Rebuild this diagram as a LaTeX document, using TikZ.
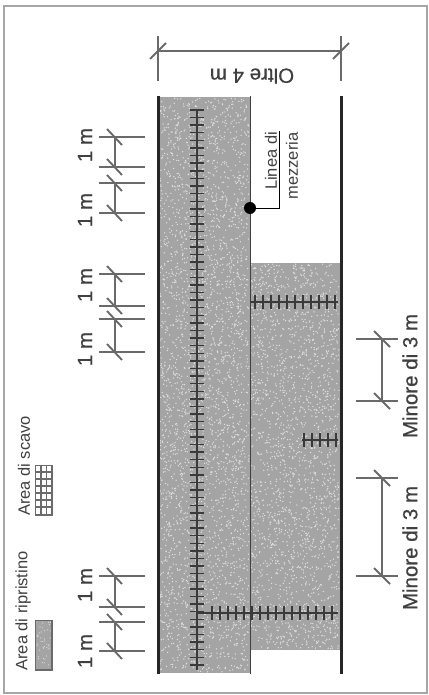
\documentclass[tikz,border=0pt]{standalone}
\usepackage{fontspec}
\setmainfont{Liberation Sans}
\newfontfamily\heavyfont{Liberation Sans}[FakeBold=0.6]
\usepackage{xcolor}
\usepackage{tikz}
\definecolor{dimgray}{HTML}{6A6A6A}
\definecolor{textgray}{HTML}{404040}
\definecolor{repair}{HTML}{A4A4A4}
\definecolor{speck}{HTML}{DEDEDE}
\definecolor{digline}{HTML}{3A3A3A}
\tikzset{
    dimline/.style = {draw = dimgray, line width = 1.9pt},
    roadedge/.style = {draw = black!85, line width = 3pt},
    midline/.style = {draw = black!75, line width = 1pt},
    digtick/.style = {draw = digline, line width = 1.4pt},
    bigtext/.style = {text = textgray, font = \heavyfont\fontsize{20.5}{21}\selectfont, inner sep = 0pt},
    smalltext/.style = {text = textgray, font = \fontsize{16.5}{17}\selectfont, inner sep = 0pt},
}
\begin{document}
\begin{tikzpicture}[x = 1pt, y = -1pt]
            \useasboundingbox (0, 0) rectangle (428, 695);
            \draw [draw = black!35, line width = 2pt] (4, 693) -- (4, 6) -- (427, 6) -- (427, 693) -- cycle;
            % repair areas
            \fill [repair] (159, 97) rectangle (250, 673);
            \fill [repair] (250, 263) rectangle (340, 650);
            \fill [repair] (35.5, 620.5) rectangle (52, 670);
            \pgfmathsetseed{11}
            \foreach \i in {1, ..., 3200} {
                \fill [speck] ({160 + 89 * rnd}, {98 + 574 * rnd}) circle (0.75);
            }
            \foreach \i in {1, ..., 2100} {
                \fill [speck] ({251 + 88 * rnd}, {264 + 385 * rnd}) circle (0.75);
            }
            \foreach \i in {1, ..., 40} {
                \fill [speck] ({37 + 14 * rnd}, {622 + 46 * rnd}) circle (0.6);
            }
            % road
            \coordinate (leftTop) at (158.5, 96);
            \coordinate (leftBottom) at (158.5, 674);
            \coordinate (rightTop) at (341, 96);
            \coordinate (rightBottom) at (341, 674);
            \coordinate (midTop) at (250, 96);
            \coordinate (midBottom) at (250, 674);
            \draw [roadedge] (leftTop) edge (leftBottom);
            \draw [roadedge] (rightTop) edge (rightBottom);
            \draw [midline] (midTop) edge (midBottom);
            % excavation lines
            \coordinate (digTop) at (197, 110);
            \coordinate (digBottom) at (197, 670);
            \draw [digtick, line width = 2.4pt] (digTop) edge (digBottom);
            \foreach \y in {110, 117.6, ..., 668} {
                \draw [digtick] (190, \y) -- (204, \y);
            }
            \coordinate (digA) at (250, 302);
            \coordinate (digAEnd) at (338, 302);
            \draw [digtick, line width = 2.4pt] (digA) edge (digAEnd);
            \foreach \x in {255, 263, ..., 336} {
                \draw [digtick] (\x, 295) -- (\x, 309);
            }
            \coordinate (digB) at (302, 440);
            \coordinate (digBEnd) at (338, 440);
            \draw [digtick, line width = 2.4pt] (digB) edge (digBEnd);
            \foreach \x in {304, 312, ..., 336} {
                \draw [digtick] (\x, 433) -- (\x, 447);
            }
            \coordinate (digC) at (197, 613);
            \coordinate (digCEnd) at (338, 613);
            \draw [digtick, line width = 2.4pt] (digC) edge (digCEnd);
            \foreach \x in {212, 220, ..., 336} {
                \draw [digtick] (\x, 606) -- (\x, 620);
            }
            % width dimension
            \coordinate (widthL) at (158, 51);
            \coordinate (widthR) at (341, 51);
            \draw [dimline] (widthL) edge (widthR);
            \draw [dimline] (158, 36) -- (158, 81);
            \draw [dimline] (341, 36) -- (341, 81);
            \draw [dimline] (150, 59) -- (166, 43);
            \draw [dimline] (333, 59) -- (349, 43);
            \node (oltre) at (252, 76) [bigtext, rotate = 180] {Oltre 4 m};
            % left dimensions
            \foreach \ya/\yb in {137/167, 183/213, 274/306, 319/352, 576/607, 622/651} {
                \draw [dimline] (99, \ya) -- (145, \ya);
                \draw [dimline] (99, \yb) -- (145, \yb);
                \draw [dimline] (115, \ya) -- (115, \yb);
                \draw [dimline] (107, \ya - 8) -- (122, \ya + 8);
                \draw [dimline] (107, \yb - 8) -- (122, \yb + 8);
            }
            \node (oneA) at (85, 145) [bigtext, rotate = 90] {1 m};
            \node (oneB) at (85, 210) [bigtext, rotate = 90] {1 m};
            \node (oneC) at (85, 285) [bigtext, rotate = 90] {1 m};
            \node (oneD) at (85, 349) [bigtext, rotate = 90] {1 m};
            \node (oneE) at (85, 585) [bigtext, rotate = 90] {1 m};
            \node (oneF) at (85, 651) [bigtext, rotate = 90] {1 m};
            % right dimensions
            \foreach \ya/\yb in {339/401, 478/576} {
                \draw [dimline] (356, \ya) -- (398, \ya);
                \draw [dimline] (356, \yb) -- (398, \yb);
                \draw [dimline] (382, \ya) -- (382, \yb);
                \draw [dimline] (374, \ya - 8) -- (390, \ya + 8);
                \draw [dimline] (374, \yb - 8) -- (390, \yb + 8);
            }
            \node (minoreA) at (410, 376) [bigtext, rotate = 90] {Minore di 3 m};
            \node (minoreB) at (410, 548) [bigtext, rotate = 90] {Minore di 3 m};
            % centre line label
            \node (dot) at (250, 208) [circle, fill = black, minimum size = 12pt, inner sep = 0pt] {};
            \coordinate (bend) at (279, 208);
            \coordinate (leaderEnd) at (279, 131);
            \draw [draw = black, line width = 1pt] (dot) -- (bend) -- (leaderEnd);
            \node (linea) at (271, 161) [smalltext, rotate = 90] {Linea di};
            \node (mezzeria) at (292, 166) [smalltext, rotate = 90] {mezzeria};
            % legend
            \node (ripristino) at (23, 611) [smalltext, rotate = 90] {Area di ripristino};
            \node (scavo) at (24, 466) [smalltext, rotate = 90] {Area di scavo};
            \draw [draw = dimgray, line width = 1.8pt] (35.5, 620.5) rectangle (52, 670);
            \draw [draw = dimgray, line width = 1.8pt] (35.5, 465.5) rectangle (52, 515);
            \foreach \x in {41, 46.5} {
                \draw [draw = dimgray, line width = 1.8pt] (\x, 465.5) -- (\x, 515);
            }
            \foreach \y in {472, 479, ..., 510} {
                \draw [draw = dimgray, line width = 1.8pt] (35.5, \y) -- (52, \y);
            }
        \end{tikzpicture}
\end{document}
